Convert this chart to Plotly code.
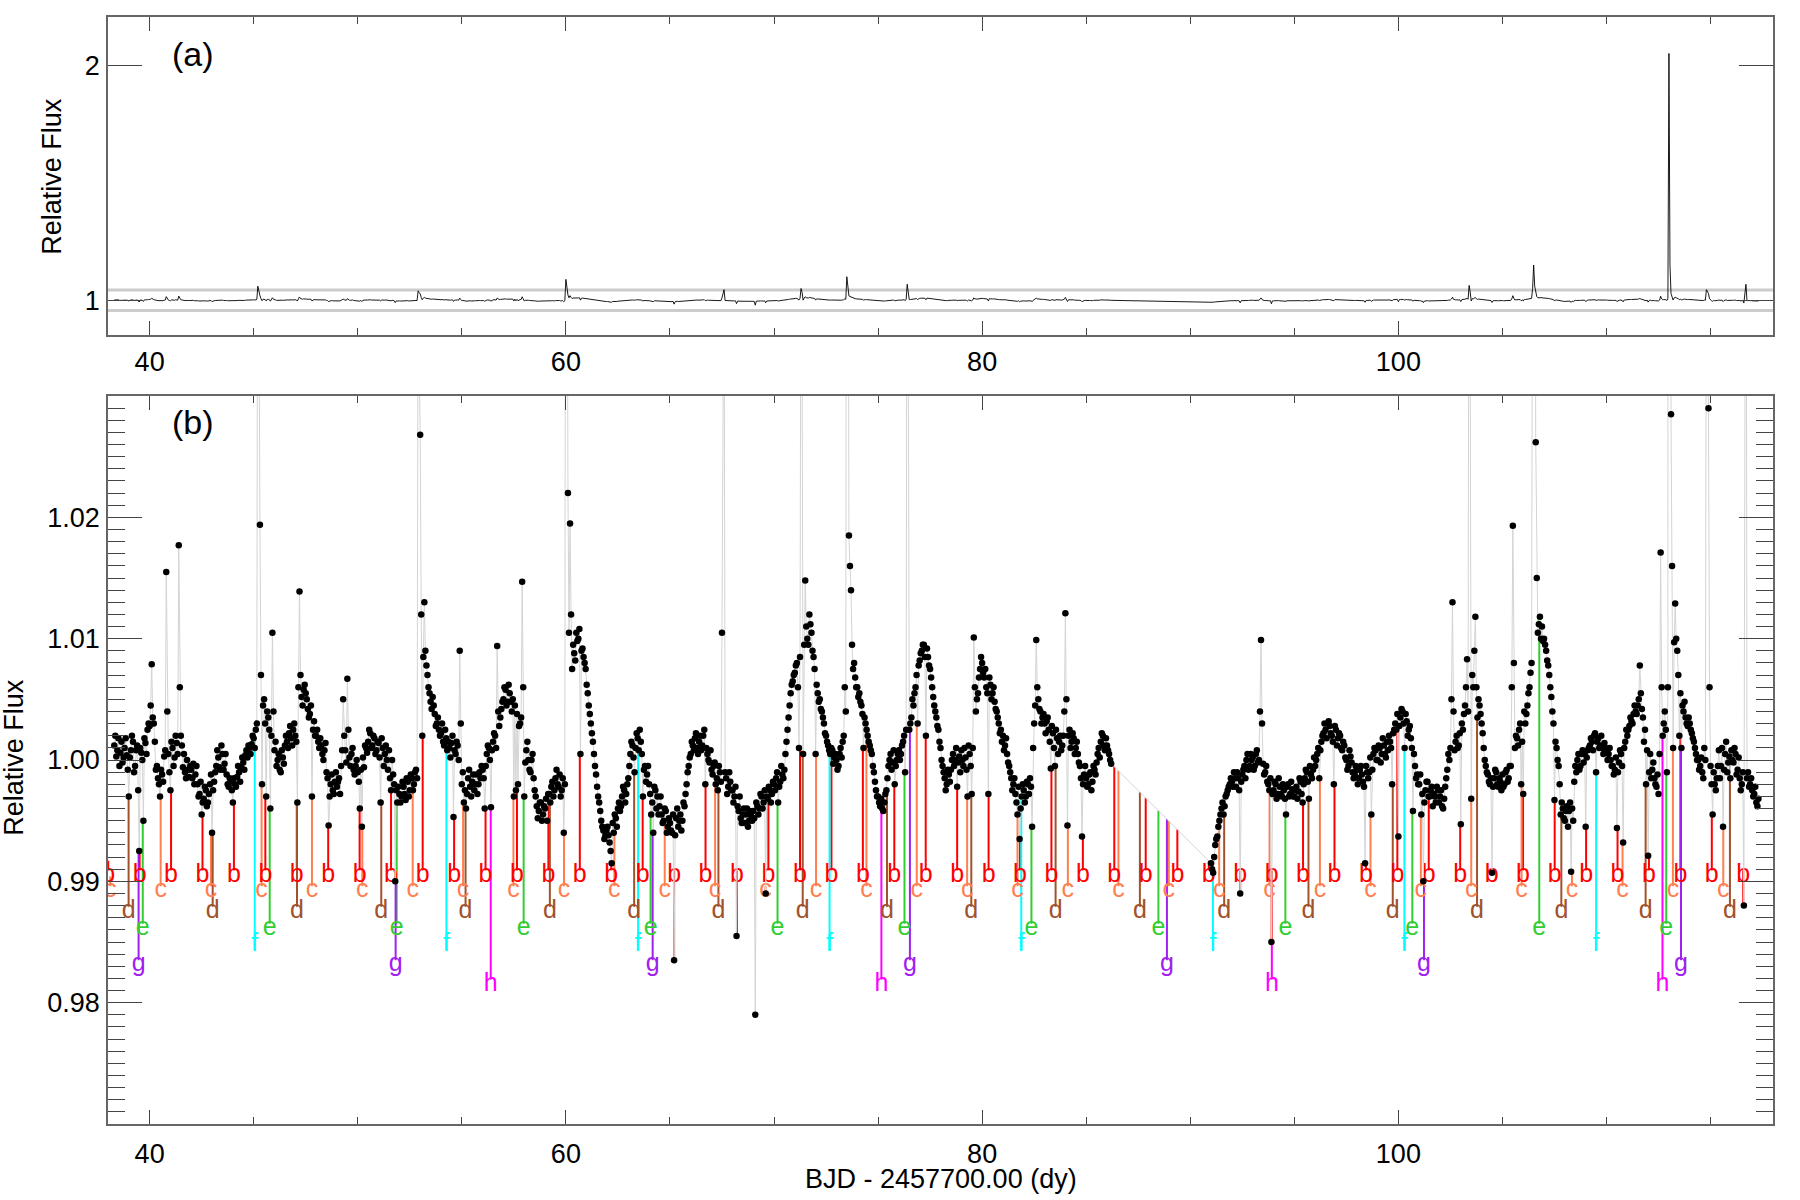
import numpy as np
import plotly.graph_objects as go

# ---------------- data (flux deviations in units of 1e-4) ----------------
cadence = 0.1
seg1_start = 38.3       # first sample of the first observing segment
seg2_start = 91.0       # first sample after the data gap
mid_offset = 0.05       # second set of samples, halfway between the first ones

seg1_dflux = [
    12, 3, 18, 6, -2, 10, 4,                                   # 38.3-38.9
    -30, 8, 15, -5, 12, -75, 6, -50, 14, 25,                   # 39
    28, 79, 30, -8, -15, -30, -12, 3, 155, 5,                  # 40
    -25, 10, 2, 14, 177, 20, -6, -10, 0, -14,                  # 41
    -8, -3, -12, -20, -28, -45, -32, -25, -35, -20,            # 42
    -60, -18, -5, 2, -8, 5, -3, -12, -22, -18,                 # 43
    -35, -20, -14, -10, -6, -2, 4, 2, 10, 13,                  # 44
    18, 25, 600, 194, -20, 50, -30, 35, -40, 105,              # 45
    8, -5, 5, -10, 2, 12, 15, 22, 18, 25,                      # 46
    20, -35, 139, 52, 58, 55, 42, 38, -30, 32,                 # 47
    20, 15, 18, 5, 8, -10, -54, -20, -25, -18,                 # 48
    -22, -15, -5, 50, 8, 67, 2, 5, -8, -5,                     # 49
    -10, -40, -55, -6, 10, 15, 22, 12, 18, 8,                  # 50
    14, -35, 10, 5, 0, 8, -25, -12, -100, -35,                 # 51
    -28, -30, -22, -33, -18, -25, -15, -20, -8, 400,           # 52
    268, 20, 130, 78, 60, 48, 52, 38, 30, 25,                  # 53
    22, 15, 25, 8, 10, 14, -47, 5, 12, 90,                     # 54
    -20, -35, -40, -15, -22, -18, -25, -12, -20, -15,          # 55
    -8, -40, 5, 10, -39, 15, 20, 94, 28, 42,                   # 56
    50, 58, 48, 55, 40, -30, -25, -20, 30, 147,                # 57
    -30, 8, 0, -10, 5, -25, -38, -42, -35, -45,                # 58
    -40, -50, -28, -22, -30, -15, -20, -12, -25, -60,          # 59
    890, 220, 195, 75, 88, 105, 100, 5, 92, 80,                # 60
    62, 45, 30, 15, -5, -22, -35, -50, -58, -62,               # 61
    -55, -68, -85, -60, -48, -40, -42, -30, -25, -28,          # 62
    -15, 5, 12, -10, 22, 8, 15, -30, -5, -12,                  # 63
    -20, -45, -60, -25, -30, -38, -45, -50, -42, -55,          # 64
    -52, -60, -165, -48, -55, -45, -50, -38, -20, -5,          # 65
    5, 12, 18, 10, 15, 8, 20, -20, 5, -2,                      # 66
    -8, -5, -20, -25, -10, 105, 450, -15, -22, -18,            # 67
    -25, -30, -145, -42, -48, -45, -52, -40, -50, -46,         # 68
    -42, -210, -38, -40, -30, -35, -110, -32, -25, -28,        # 69
    -20, -15, -35, -18, -12, -8, 15, 35, 55, 65,               # 70
    72, 80, 10, 500, 5, 148, 100, 120, 105, 85,                # 71
    5, 55, 50, 40, 30, 20, 12, 5, 8, 2,                        # 72
    0, -5, 10, 15, 60, 1000, 185, 140, 75, 68,                 # 73
    60, 55, 45, 10, 30, 20, 12, 5, -10, -25,                   # 74
    -30, -38, -40, -35, -25, -5, 5, -2, -20, 0,                # 75
    8, 5, 15, -10, 680, 25, 35, 45, 60, 30,                    # 76
    82, 90, 95, 20, 85, 75, 60, 45, 35, 25,                    # 77
    10, -5, -15, -20, -12, -8, 5, 0, -22, 3,                   # 78
    8, -5, 2, -30, 5, -28, 101, 40, 55, 75,                    # 79
    80, 68, 60, -28, 62, 55, 48, 40, 30, 25,                   # 80
    20, 12, 5, -5, -15, -20, -28, -45, -65, -30,               # 81
    -25, -30, -20, -15, -55, 30, 99, 50, 40, 35,               # 82
    30, 32, 25, -7, 22, -5, 18, 15, 8, 20,                     # 83
    121, -54, 25, 15, 18, 10, 5, -5, -63, -12,                 # 84
    -15, -20, -10, -18, -8, -2, 10, 15, 20, 8,                 # 85
    12, 5, -3,                                                 # 86.0-86.2
]

seg1_mid_dflux = [
    20, 8, -5, 15, 2, 18, -8,                                  # 38.35-38.95
    2, 20, -10, 8, -25, 10, 0, 18, 5, 30,                      # 39.x5
    45, 35, 15, -5, -20, -8, -18, 8, 40, -10,                  # 40.x5
    15, -5, 20, 5, 60, 12, 5, -15, -8, -5,                     # 41.x5
    -15, -20, -5, -30, -18, -35, -22, -38, -28, -12,           # 42.x5
    -25, -10, 8, -6, 12, -8, 5, -20, -15, -25,                 # 43.x5
    -15, -22, -5, -18, 2, -8, 8, 12, 5, 20,                    # 44.x5
    10, 30, 350, 70, 45, 30, 40, 25, 20, 40,                   # 45.x5
    15, 0, -8, 8, -3, 20, 10, 28, 12, 30,                      # 46.x5
    15, 60, 70, 45, 62, 50, 35, 45, 25, 20,                    # 47.x5
    25, 10, 12, 0, 14, -15, -30, -12, -28, -10,                # 48.x5
    -18, -28, 8, 20, -2, 25, -5, 10, -12, 0,                   # 49.x5
    -18, -8, 2, 12, 6, 25, 10, 20, 5, 15,                      # 50.x5
    2, 18, -5, 12, -8, -15, 0, -20, -25, -22,                  # 51.x5
    -35, -18, -28, -15, -30, -12, -25, -10, -15, 330,          # 52.x5
    120, 85, 90, 70, 55, 42, 45, 28, 35, 20,                   # 53.x5
    30, 12, 18, 15, 2, 20, 8, 15, 0, 30,                       # 54.x5
    -10, -25, -28, -8, -30, -12, -20, -28, -10, -5,            # 55.x5
    -15, -5, 12, 0, 8, 22, 10, 40, 35, 48,                     # 56.x5
    60, 45, 62, 48, 50, 45, 38, 28, 35, 60,                    # 57.x5
    -2, 15, -8, 0, -15, -30, -48, -35, -50, -38,               # 58.x5
    -32, -28, -35, -18, -25, -8, -22, -30, -15, -20,           # 59.x5
    450, 105, 120, 95, 82, 98, 108, 90, 85, 75,                # 60.x5
    55, 38, 22, 5, -12, -30, -42, -55, -65, -58,               # 61.x5
    -62, -75, -52, -45, -55, -35, -38, -22, -35, -20,          # 62.x5
    -5, 15, 2, 10, 18, 25, 5, -8, -18, -5,                     # 63.x5
    -28, -35, -22, -40, -45, -30, -52, -40, -60, -48,          # 64.x5
    -58, -45, -62, -40, -50, -58, -35, -28, -10, 2,            # 65.x5
    15, 8, 22, 5, 20, 12, 25, 10, 0, 8,                        # 66.x5
    -12, -2, -15, -5, -18, 350, -10, -28, -10, -25,            # 67.x5
    -35, -22, -38, -30, -52, -40, -45, -55, -42, -50,          # 68.x5
    -48, -35, -45, -28, -40, -25, -30, -22, -35, -18,          # 69.x5
    -25, -10, -22, -5, -15, 5, 25, 45, 62, 70,                 # 70.x5
    78, 60, 85, 330, 95, 110, 95, 112, 90, 75,                 # 71.x5
    62, 48, 42, 35, 22, 15, 8, 10, -3, 5,                      # 72.x5
    -8, 5, 2, 20, 40, 400, 160, 95, 80, 60,                    # 73.x5
    52, 48, 38, 35, 25, 15, 8, -5, -18, -30,                   # 74.x5
    -35, -32, -42, -28, -15, 0, -8, 8, -5, 5,                  # 75.x5
    0, 12, 20, 25, 340, 30, 50, 55, 70, 78,                    # 76.x5
    88, 95, 85, 92, 78, 68, 52, 40, 28, 15,                    # 77.x5
    0, -10, -25, -8, -18, 0, -5, 10, -2, -10,                  # 78.x5
    0, 10, -8, 12, -5, 10, 60, 50, 68, 85,                     # 79.x5
    72, 75, 55, 68, 50, 60, 42, 35, 22, 15,                    # 80.x5
    8, 18, -2, -10, -25, -15, -35, -22, -40, -20,              # 81.x5
    -35, -18, -28, -22, 10, 45, 60, 42, 30, 38,                # 82.x5
    22, 35, 15, 28, 10, 25, 5, 20, 12, 40,                     # 83.x5
    50, 20, 10, 22, 5, 15, -2, -15, -20, -5,                   # 84.x5
    -22, -12, -25, -5, -12, 5, 2, 22, 12, 18,                  # 85.x5
    8, 0,                                                      # 86.05-86.15
]

seg2_dflux = [
    -85, -93, -70, -63, -50, -40, -45, -30, -25, -20,          # 91
    -18, -10, -22, -15, -110, -12, -5, 0, -8, 5,               # 92
    2, -5, 8, 0, 99, -3, -10, -18, -25, -150,                  # 93
    -25, -20, -28, -22, -30, -25, -45, -20, -28, -24,          # 94
    -30, -22, -26, -18, -35, -15, -10, -32, -12, -8,           # 95
    -5, 5, -15, 15, 22, 25, 30, 28, 20, -20,                   # 96
    25, 18, 20, 8, 12, 0, -5, 3, -10, -12,                     # 97
    -8, -15, -5, -18, -85, -10, -10, -45, 5, 8,                # 98
    0, 10, 5, 12, 2, 8, 15, -20, 25, 25,                       # 99
    -63, 35, 40, 10, 32, 25, 18, -42, -5, -12,                 # 100
    -20, -45, -100, -25, -18, -30, -22, -28, -35, -25,         # 101
    -30, -38, -32, -15, 5, 10, 130, 8, 20, 12,                 # 102
    -53, 25, 45, 83, 630, -32, 60, 118, 35, 45,                # 103
    30, 10, -5, -12, -20, -93, -15, -10, -22, -18,             # 104
    -12, -20, -8, -15, -5, 193, 10, 18, 25, -20,               # 105
    -28, 30, 45, 60, 80, 1500, 262, 105, 118, 110,             # 106
    100, 90, 78, 60, 40, -33, 10, -5, -45, -40,                # 107
    -50, -38, -42, -92, -50, -5, 0, -8, 5, -2,                 # 108
    -55, 8, 12, 15, 20, -10, 18, 12, 10, 14,                   # 109
    8, 5, 0, -5, -8, -56, -2, 5, -68, 15,                      # 110
    20, 28, 32, 38, 40, 45, 78, 42, 15, -20,                   # 111
    -79, 5, -8, -15, -22, -28, 171, 20, 40, -10,               # 112
    10500, 285, 10, 129, 90, 20, 10, 40, 35, 28,               # 113
    30, 22, 15, 5, 0, -5, -10, 10, 450, 290,                   # 114
    -5, -45, -20, -15, 8, -5, -55, 5, -10, 3,                  # 115
    8, -2, 5, -8, -15, -20, -120, 680, -10, -20,               # 116
    -25, -28, -35, -32,                                        # 117.0-117.3
]

seg2_mid_dflux = [
    -90, -80, -65, -55, -45, -35, -38, -28, -22, -15,          # 91.x5
    -22, -15, -10, -25, -18, -8, -15, 5, -5, 0,                # 92.x5
    -8, 5, -2, 40, 30, -12, -5, -20, -15, -28,                 # 93.x5
    -18, -32, -15, -28, -20, -32, -22, -30, -18, -30,          # 94.x5
    -25, -32, -15, -28, -20, -8, -18, -5, -15, 2,              # 95.x5
    0, 10, 8, 20, 30, 18, 32, 22, 15, 28,                      # 96.x5
    12, 22, 10, 15, 2, -8, 8, -2, -15, -5,                     # 97.x5
    -20, -8, -12, -22, -5, -15, 2, -8, 10, 0,                  # 98.x5
    12, -2, 18, 5, 15, 20, 10, 22, 30, 38,                     # 99.x5
    28, 42, 30, 38, 20, 28, 10, 5, -15, -20,                   # 100.x5
    -12, -28, -35, -18, -30, -25, -38, -30, -22, -35,          # 101.x5
    -25, -40, -22, -8, 0, 50, 40, 15, 10, 22,                  # 102.x5
    30, 38, 60, 40, 350, 70, 90, 60, 50, 38,                   # 103.x5
    22, 0, -10, -18, -15, -22, -8, -20, -15, -25,              # 104.x5
    -22, -10, -18, -5, 60, 80, 20, 12, 30, 15,                 # 105.x5
    40, 38, 55, 72, 500, 600, 150, 112, 100, 98,               # 106.x5
    95, 82, 70, 52, 30, 15, 0, -20, -35, -48,                  # 107.x5
    -42, -55, -35, -40, -18, -10, 5, -5, 8, 5,                 # 108.x5
    2, 10, 18, 8, 22, 15, 10, 20, 5, 10,                       # 109.x5
    0, 10, -5, -12, 2, -10, 8, -5, 10, 25,                     # 110.x5
    25, 35, 30, 45, 38, 50, 55, 35, 25, 8,                     # 111.x5
    -10, -15, -2, -20, -12, 5, 60, 30, 25, 60,                 # 112.x5
    1500, 160, 97, 100, 70, 55, 45, 48, 30, 35,                # 113.x5
    25, 18, 10, 0, -8, 2, -15, 0, 350, 60,                     # 114.x5
    -20, -10, -25, -5, -15, 10, -8, 15, -2, -15,               # 115.x5
    0, 10, -12, 2, -25, -10, 400, -15, -22, -15,               # 116.x5
    -30, -22, -38,                                             # 117.05-117.25
]

# predicted transit times (BJD - 2457700)
transit_b = [38.01, 39.52, 41.03, 42.54, 44.05, 45.56, 47.07, 48.58, 50.09, 51.60,
             53.12, 54.63, 56.14, 57.65, 59.16, 60.67, 62.18, 63.69, 65.20, 66.71,
             68.22, 69.73, 71.25, 72.76, 74.27, 75.78, 77.29, 78.80, 80.31, 81.82,
             83.33, 84.84, 86.35, 87.86, 89.38, 90.89, 92.40, 93.91, 95.42, 96.93,
             98.44, 99.95, 101.46, 102.97, 104.48, 105.99, 107.51, 109.02, 110.53,
             112.04, 113.55, 115.06, 116.57]
transit_c = [38.11, 40.53, 42.95, 45.38, 47.80, 50.22, 52.64, 55.06, 57.48, 59.91,
             62.33, 64.75, 67.17, 69.59, 72.02, 74.44, 76.86, 79.28, 81.70, 84.12,
             86.55, 88.97, 91.39, 93.81, 96.23, 98.66, 101.08, 103.50, 105.92,
             108.34, 110.77, 113.19, 115.61]
transit_d = [38.99, 43.03, 47.08, 51.13, 55.18, 59.23, 63.28, 67.33, 71.38, 75.43,
             79.48, 83.53, 87.58, 91.63, 95.68, 99.73, 103.78, 107.83, 111.88, 115.93]
transit_e = [39.67, 45.77, 51.87, 57.97, 64.07, 70.17, 76.27, 82.37, 88.47, 94.57,
             100.67, 106.77, 112.87]
transit_f = [45.05, 54.26, 63.47, 72.67, 81.88, 91.09, 100.29, 109.50]
transit_g = [39.47, 51.82, 64.17, 76.53, 88.88, 101.23, 113.58]
transit_h = [56.39, 75.16, 93.92, 112.69]

planet_names = ["b", "c", "d", "e", "f", "g", "h"]
planet_transits = [transit_b, transit_c, transit_d, transit_e, transit_f, transit_g, transit_h]
planet_colors = ["#ff0000", "#ff7f50", "#a0522d", "#32cd32", "#00ffff", "#a020f0", "#ff00ff"]
label_levels = [0.9905, 0.9892, 0.9875, 0.9861, 0.9848, 0.9831, 0.9815]

# ---------------- derived series ----------------
t1 = np.round(seg1_start + cadence * np.arange(len(seg1_dflux)), 3)
t2 = np.round(seg2_start + cadence * np.arange(len(seg2_dflux)), 3)
t1m = np.round(seg1_start + mid_offset + cadence * np.arange(len(seg1_mid_dflux)), 3)
t2m = np.round(seg2_start + mid_offset + cadence * np.arange(len(seg2_mid_dflux)), 3)

time_p = np.concatenate([t1, t2])
flux_p = 1.0 + np.array(seg1_dflux + seg2_dflux, dtype=float) * 1e-4

time_all = np.concatenate([t1, t1m, t2, t2m])
flux_all = 1.0 + np.array(seg1_dflux + seg1_mid_dflux + seg2_dflux + seg2_mid_dflux,
                          dtype=float) * 1e-4
order = np.argsort(time_all, kind="stable")
time = time_all[order]
flux = flux_all[order]


def flux_at(t):
    if t < time_p[0]:
        return None
    if t1[-1] < t < t2[0]:
        return float(np.interp(t, time_p, flux_p))
    return float(flux_p[np.argmin(np.abs(time_p - t))])


FONT = "Liberation Sans, Arial, Helvetica, sans-serif"
fig = go.Figure()

# panel (a): full light curve
fig.add_trace(go.Scatter(x=time, y=flux, mode="lines", line=dict(color="black", width=0.9),
                         xaxis="x", yaxis="y", showlegend=False, hoverinfo="skip"))

# panel (b): transit markers
for name, tr, col, lev in zip(planet_names, planet_transits, planet_colors, label_levels):
    xs, ys = [], []
    bottom = lev - 0.0005 if name == "f" else lev + 0.0004
    for t in tr:
        top = flux_at(t)
        if top is None:
            top = lev + 0.0012
        xs += [t, t, None]
        ys += [bottom, top, None]
    fig.add_trace(go.Scatter(x=xs, y=ys, mode="lines", line=dict(color=col, width=2),
                             xaxis="x2", yaxis="y2", showlegend=False, hoverinfo="skip"))
for name, tr, col, lev in zip(planet_names, planet_transits, planet_colors, label_levels):
    fig.add_trace(go.Scatter(x=tr, y=[lev] * len(tr), mode="text", text=[name] * len(tr),
                             textposition="middle center",
                             textfont=dict(family=FONT, size=25, color=col),
                             xaxis="x2", yaxis="y2", showlegend=False, hoverinfo="skip",
                             cliponaxis=True))

# panel (b): light curve
fig.add_trace(go.Scatter(x=time, y=flux, mode="lines", line=dict(color="#d4d4d4", width=1),
                         xaxis="x2", yaxis="y2", showlegend=False, hoverinfo="skip"))
fig.add_trace(go.Scatter(x=time, y=flux, mode="markers",
                         marker=dict(color="black", size=6.5, line=dict(width=0)),
                         xaxis="x2", yaxis="y2", showlegend=False, hoverinfo="skip"))

axis_common = dict(showgrid=False, zeroline=False, showline=True, linecolor="#666666",
                   linewidth=1.5, mirror="ticks", ticks="inside", tickcolor="#444444",
                   tickfont=dict(family=FONT, size=27, color="black"))

xcommon = dict(axis_common, range=[38, 118], tickmode="linear", tick0=40, dtick=20,
               ticklen=14, tickwidth=1.2,
               minor=dict(tickmode="linear", tick0=0, dtick=5, ticks="inside", ticklen=7,
                          tickcolor="#444444", tickwidth=1.2))

fig.update_layout(
    width=1800, height=1200,
    margin=dict(l=108, r=27, t=17, b=76),
    paper_bgcolor="white", plot_bgcolor="white",
    font=dict(family=FONT, size=27, color="black"),
    xaxis=dict(xcommon, domain=[0, 1], anchor="y", ticklabelstandoff=2),
    xaxis2=dict(xcommon, domain=[0, 1], anchor="y2", ticklabelstandoff=5),
    yaxis=dict(axis_common, domain=[0.7127, 1.0], anchor="x", range=[0.852, 2.205],
               tickmode="array", tickvals=[1, 2], ticktext=["1", "2"],
               ticklen=34, tickwidth=1.2, ticklabelstandoff=1),
    yaxis2=dict(axis_common, domain=[0.0, 0.6576], anchor="x2", range=[0.97, 1.03],
                tickmode="array", tickvals=[0.98, 0.99, 1.00, 1.01, 1.02],
                ticktext=["0.98", "0.99", "1.00", "1.01", "1.02"],
                ticklen=34, tickwidth=1.2, ticklabelstandoff=1,
                minor=dict(tickmode="linear", tick0=0.97, dtick=0.001, ticks="inside",
                           ticklen=17, tickcolor="#444444", tickwidth=1.2)),
    shapes=[
        dict(type="line", xref="x domain", yref="y", x0=0, x1=1, y0=1.044, y1=1.044,
             line=dict(color="#cccccc", width=3), layer="below"),
        dict(type="line", xref="x domain", yref="y", x0=0, x1=1, y0=0.956, y1=0.956,
             line=dict(color="#cccccc", width=3), layer="below"),
    ],
    annotations=[
        dict(text="Relative Flux", xref="paper", yref="paper", x=-0.0338, y=0.8564,
             textangle=-90, showarrow=False, font=dict(family=FONT, size=27),
             xanchor="center", yanchor="middle"),
        dict(text="Relative Flux", xref="paper", yref="paper", x=-0.0566, y=0.3315,
             textangle=-90, showarrow=False, font=dict(family=FONT, size=27),
             xanchor="center", yanchor="middle"),
        dict(text="BJD - 2457700.00 (dy)", xref="paper", yref="paper", x=0.5, y=-0.0497,
             showarrow=False, font=dict(family=FONT, size=27),
             xanchor="center", yanchor="middle"),
        dict(text="(a)", xref="paper", yref="paper", x=0.051, y=0.9666,
             showarrow=False, font=dict(family=FONT, size=34),
             xanchor="center", yanchor="middle"),
        dict(text="(b)", xref="paper", yref="paper", x=0.051, y=0.6337,
             showarrow=False, font=dict(family=FONT, size=34),
             xanchor="center", yanchor="middle"),
    ],
)

fig.write_html("out.html")
